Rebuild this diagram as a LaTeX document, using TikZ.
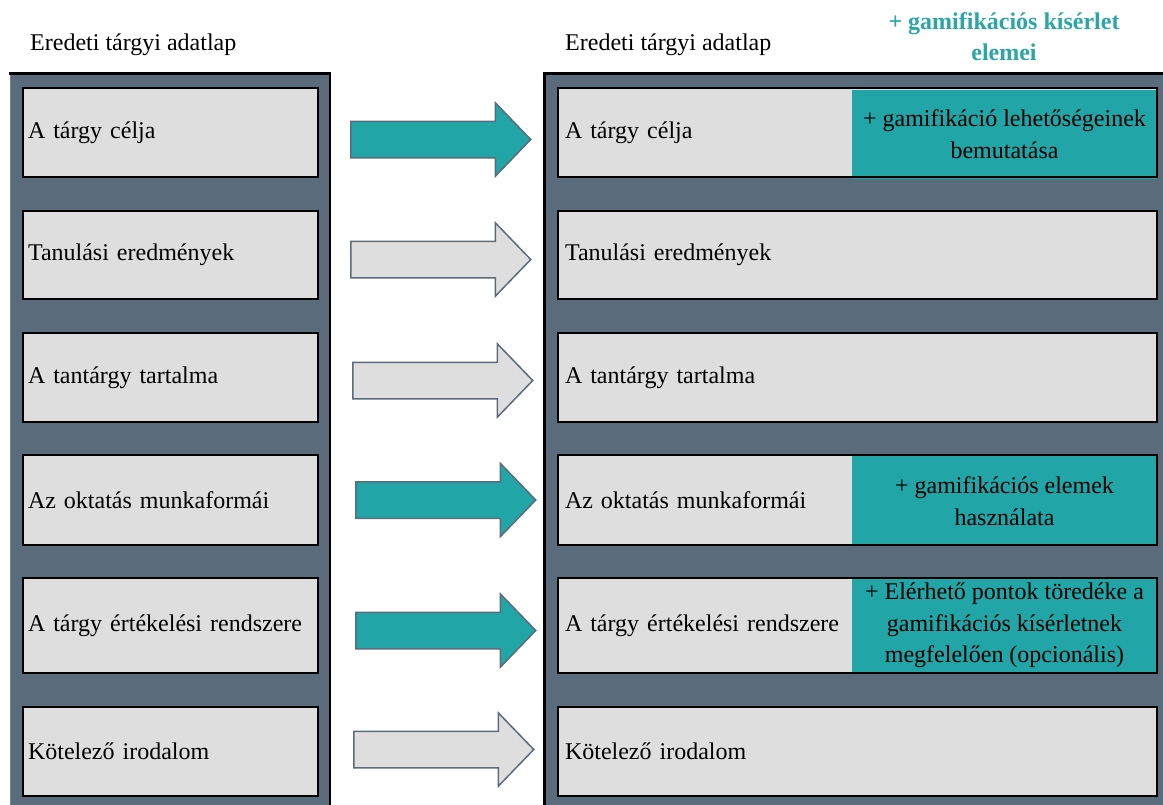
\documentclass[tikz,border=0pt]{standalone}
\usepackage{fontspec}
\setmainfont{Liberation Serif}
\usetikzlibrary{shapes.arrows}

\definecolor{panelfill}{HTML}{5A6B7C}
\definecolor{cellfill}{HTML}{DEDEDE}
\definecolor{gamiteal}{HTML}{22A5A6}
\definecolor{titleteal}{HTML}{2AA6A6}
\definecolor{arrowedge}{HTML}{5B6C7E}

\tikzset{
  every node/.style={font=\fontsize{24}{31.5}\selectfont, inner sep=0pt},
  lcell/.style={draw=black, line width=1.8pt, fill=cellfill, minimum width=295pt,
    text width=285pt, inner xsep=5pt, align=left},
  rcell/.style={fill=cellfill, minimum width=599pt, text width=585pt,
    inner xsep=7pt, align=left},
  gamicell/.style={fill=gamiteal, minimum width=305pt, align=center},
  cellborder/.style={draw=black, line width=1.8pt},
  blockarrow/.style={shape=single arrow, draw=arrowedge, line width=1.5pt,
    minimum height=180pt, minimum width=72pt, text height=0pt, text depth=0pt,
    inner xsep=0pt, inner ysep=17.5pt, single arrow head extend=18.5pt,
    single arrow tip angle=92, anchor=tail},
  tealarrow/.style={blockarrow, fill=gamiteal},
  greyarrow/.style={blockarrow, fill=cellfill},
}

\begin{document}
\begin{tikzpicture}[x=1pt, y=-1pt]
\clip (0,0) rectangle (1163,804);

% left panel
\fill[panelfill] (10,72) rectangle (330,810);
\draw[gray, line width=1pt] (10.5,72) -- (10.5,810);
\draw[black, line width=3pt] (9,73.5) -- (331.2,73.5);
\draw[black, line width=2.4pt] (330,72) -- (330,810);

% right panel
\fill[panelfill] (544,72) rectangle (1170,810);
\draw[black, line width=3pt] (542.5,73.5) -- (1170,73.5);
\draw[black, line width=3pt] (544.5,72) -- (544.5,810);

% headings
\node[anchor=base west] (headL) at (30,50) {Eredeti tárgyi adatlap};
\node[anchor=base west] (headR) at (565,50) {Eredeti tárgyi adatlap};
\node[align=center, text=titleteal, font=\fontsize{24}{31}\selectfont\bfseries]
  (headG) at (1004,37) {+ gamifikációs kísérlet\\elemei};

% left column
\node[lcell, minimum height=89pt] (L1) at (170.5,132.5) {A tárgy célja};
\node[lcell, minimum height=88pt] (L2) at (170.5,255)   {Tanulási eredmények};
\node[lcell, minimum height=89pt] (L3) at (170.5,377.5) {A tantárgy tartalma};
\node[lcell, minimum height=90pt] (L4) at (170.5,500)   {Az oktatás munkaformái};
\node[lcell, minimum height=95pt] (L5) at (170.5,625.5) {A tárgy értékelési rendszere};
\node[lcell, minimum height=89pt] (L6) at (170.5,751.5) {Kötelező irodalom};

% right column
\node[rcell, minimum height=89pt] (R1) at (857.5,132.5) {A tárgy célja};
\node[gamicell, minimum height=89pt] (G1) at (1004.5,134)
  {+ gamifikáció lehetőségeinek\\bemutatása};
\draw[cellborder] (R1.north west) rectangle (R1.south east);

\node[rcell, minimum height=88pt] (R2) at (857.5,255) {Tanulási eredmények};
\draw[cellborder] (R2.north west) rectangle (R2.south east);

\node[rcell, minimum height=89pt] (R3) at (857.5,377.5) {A tantárgy tartalma};
\draw[cellborder] (R3.north west) rectangle (R3.south east);

\node[rcell, minimum height=90pt] (R4) at (857.5,500) {Az oktatás munkaformái};
\node[gamicell, minimum height=90pt] (G4) at (1004.5,501)
  {+ gamifikációs elemek\\használata};
\draw[cellborder] (R4.north west) rectangle (R4.south east);

\node[rcell, minimum height=95pt] (R5) at (857.5,625.5) {A tárgy értékelési rendszere};
\node[gamicell, minimum height=95pt] (G5) at (1004.5,625.5)
  {+ Elérhető pontok töredéke a\\gamifikációs kísérletnek\\megfelelően (opcionális)};
\draw[cellborder] (R5.north west) rectangle (R5.south east);

\node[rcell, minimum height=89pt] (R6) at (857.5,751.5) {Kötelező irodalom};
\draw[cellborder] (R6.north west) rectangle (R6.south east);

% block arrows between the columns
\node[tealarrow] (A1) at (350,139.5) {};
\node[greyarrow] (A2) at (350,259.5) {};
\node[greyarrow] (A3) at (352,380.5) {};
\node[tealarrow] (A4) at (355,500)   {};
\node[tealarrow] (A5) at (355,630.5) {};
\node[greyarrow] (A6) at (353,749.5) {};
\end{tikzpicture}
\end{document}
